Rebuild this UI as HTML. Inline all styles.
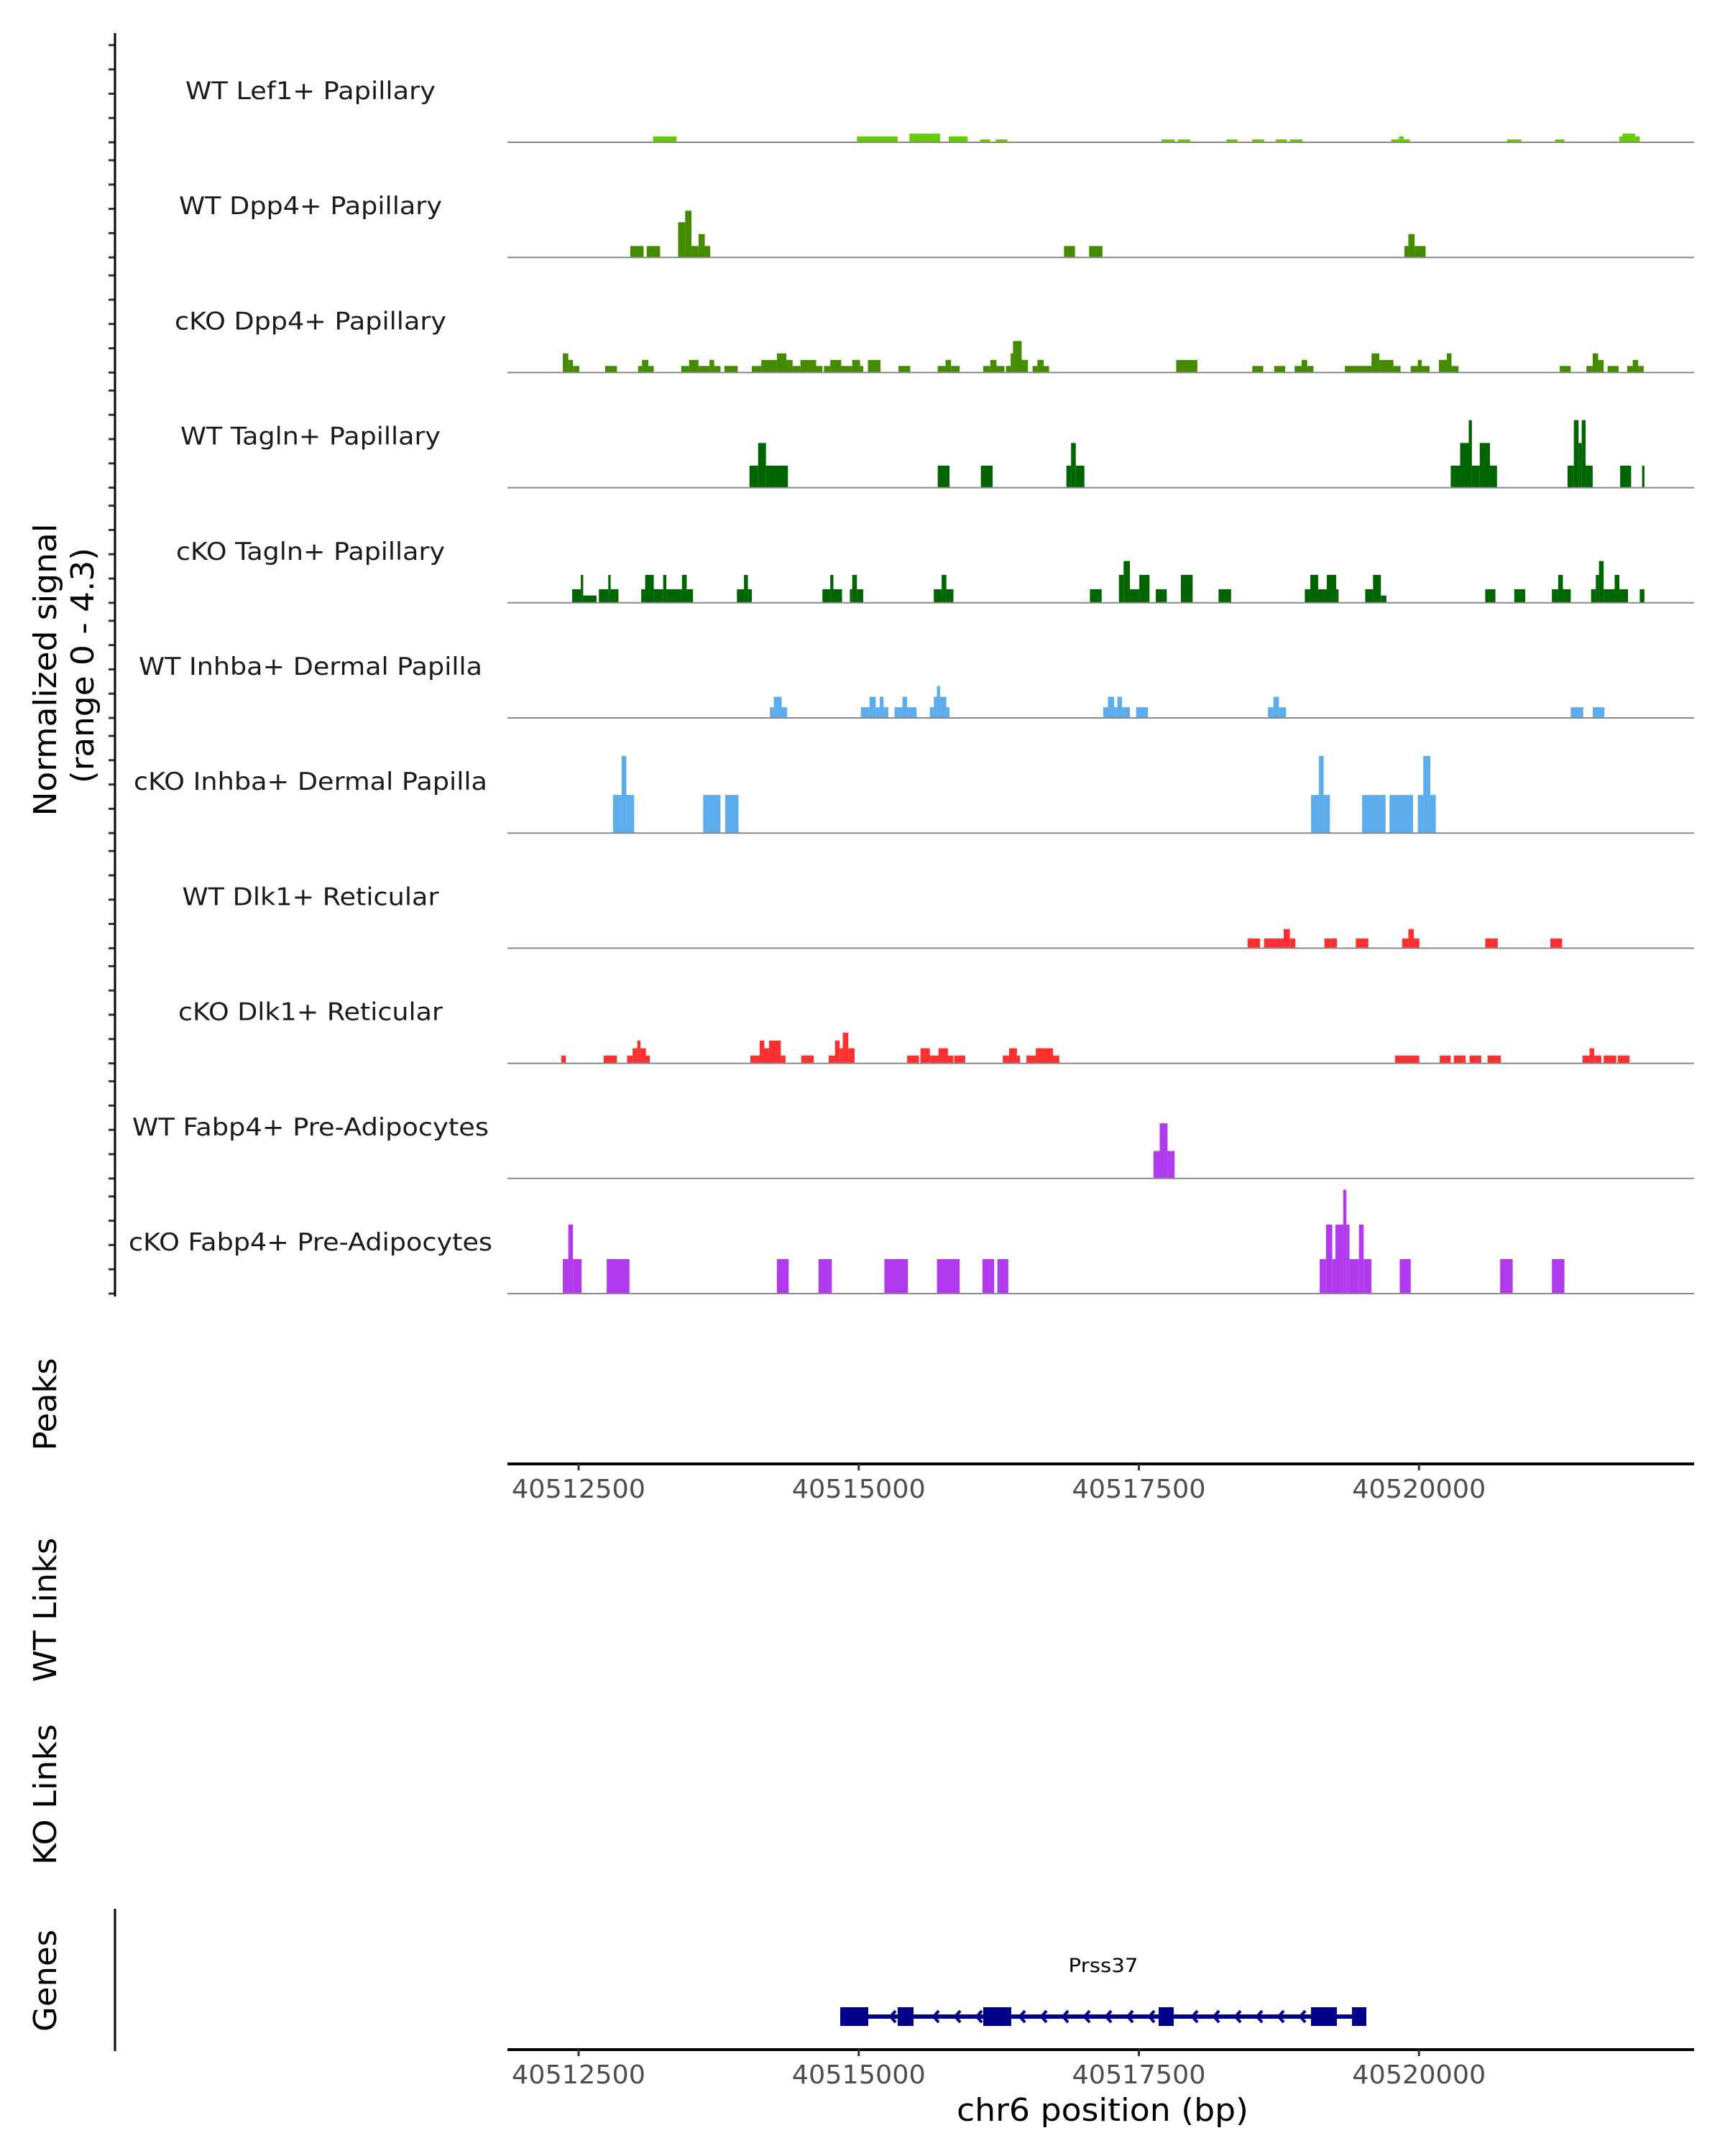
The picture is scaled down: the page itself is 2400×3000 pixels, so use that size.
<!DOCTYPE html>
<html><head><meta charset="utf-8"><style>
html,body{margin:0;padding:0;background:#fff;}
svg{display:block;font-family:"DejaVu Sans","Liberation Sans",sans-serif;}
</style></head><body>
<svg id="chart" width="2400" height="3000" viewBox="0 0 2400 3000" xmlns="http://www.w3.org/2000/svg">
<g id="tracks"></g>
<g id="leftaxis"></g>
<text transform="translate(78,932) rotate(-90)" text-anchor="middle" font-size="44" textLength="407" lengthAdjust="spacingAndGlyphs" fill="#000">Normalized signal</text>
<text transform="translate(130,926) rotate(-90)" text-anchor="middle" font-size="44" textLength="328" lengthAdjust="spacingAndGlyphs" fill="#000">(range 0 - 4.3)</text>
<text transform="translate(78,1954) rotate(-90)" text-anchor="middle" font-size="44" textLength="129" lengthAdjust="spacingAndGlyphs">Peaks</text>
<text transform="translate(78,2240) rotate(-90)" text-anchor="middle" font-size="44" textLength="201" lengthAdjust="spacingAndGlyphs">WT Links</text>
<text transform="translate(78,2497) rotate(-90)" text-anchor="middle" font-size="44" textLength="196" lengthAdjust="spacingAndGlyphs">KO Links</text>
<text transform="translate(78,2756) rotate(-90)" text-anchor="middle" font-size="44" textLength="142" lengthAdjust="spacingAndGlyphs">Genes</text>
<line x1="160" y1="2656" x2="160" y2="2854" stroke="#000" stroke-width="3"/>
<g id="xaxes"></g>
<g id="genes"></g>
<text x="1534" y="2951" text-anchor="middle" font-size="44" textLength="406" lengthAdjust="spacingAndGlyphs">chr6 position (bp)</text>
</svg>
<script>
const NS="http://www.w3.org/2000/svg";
const domainStart=40511865, domainEnd=40522487;
const regionStart=40511820;
const trackNames=["WT Lef1+ Papillary","WT Dpp4+ Papillary","cKO Dpp4+ Papillary","WT Tagln+ Papillary","cKO Tagln+ Papillary","WT Inhba+ Dermal Papilla","cKO Inhba+ Dermal Papilla","WT Dlk1+ Reticular","cKO Dlk1+ Reticular","WT Fabp4+ Pre-Adipocytes","cKO Fabp4+ Pre-Adipocytes"];
const trackColors=["#66cc00","#458b00","#458b00","#006400","#006400","#5dadec","#5dadec","#ff3030","#ff3030","#b23aee","#b23aee"];
const labelWidths=[348,366,378,362,374,478,492,357,368,496,506];
const xTicks=[40512500,40515000,40517500,40520000];
const yTicks=[0,1,2,3,4];
const lef1WT=[[1344,1554,.24],[3164,3528,.24],[3633,3906,.36],[3983,4151,.24],[4263,4354,.12],[4403,4508,.12],[5880,5999,.12],[6027,6139,.12],[6461,6559,.12],[6692,6797,.12],[6902,7000,.12],[7028,7140,.12],[7931,8001,.12],[8001,8043,.24],[8043,8099,.12],[8967,9093,.12],[9394,9478,.12],[9968,9996,.24],[9996,10108,.36],[10108,10150,.24]];
const dpp4WT=[[1141,1260,.47],[1288,1407,.47],[1568,1631,1.45],[1631,1687,1.92],[1687,1750,.47],[1750,1806,.96],[1806,1855,.47],[5012,5110,.47],[5236,5355,.47],[8050,8085,.47],[8085,8141,.96],[8141,8239,.47]];
const dpp4KO=[[539,588,.79],[588,630,.52],[630,686,.27],[917,1022,.27],[1211,1246,.27],[1246,1302,.52],[1302,1351,.27],[1596,1666,.27],[1666,1750,.52],[1750,1848,.27],[1848,1890,.52],[1890,1946,.27],[1981,2100,.27],[2226,2310,.27],[2310,2450,.52],[2450,2534,.79],[2534,2590,.52],[2590,2660,.27],[2660,2800,.52],[2800,2856,.27],[2870,2926,.27],[2926,3024,.52],[3024,3122,.27],[3122,3192,.52],[3192,3220,.27],[3262,3374,.52],[3535,3640,.27],[3885,3955,.27],[3955,4004,.52],[4004,4081,.27],[4291,4354,.27],[4354,4410,.52],[4410,4480,.27],[4494,4536,.27],[4536,4557,.79],[4557,4634,1.3],[4634,4690,.52],[4732,4774,.27],[4774,4830,.52],[4830,4879,.27],[6013,6202,.52],[6692,6790,.27],[6888,6986,.27],[7070,7133,.27],[7133,7182,.52],[7182,7238,.27],[7518,7756,.27],[7756,7826,.79],[7826,7952,.52],[7952,8015,.27],[8106,8169,.27],[8169,8204,.52],[8204,8274,.27],[8358,8428,.52],[8428,8470,.79],[8470,8533,.27],[9436,9534,.27],[9674,9730,.27],[9730,9779,.79],[9779,9828,.52],[9863,9961,.27],[10038,10087,.27],[10087,10136,.52],[10136,10185,.27]];
const taglnWT=[[2205,2282,.91],[2282,2352,1.84],[2352,2548,.91],[3885,3990,.91],[4270,4375,.91],[5033,5075,.91],[5075,5117,1.84],[5117,5194,.91],[8463,8547,.91],[8547,8624,1.84],[8624,8652,2.78],[8652,8722,.91],[8722,8813,1.84],[8813,8876,.91],[9506,9562,.91],[9562,9604,2.78],[9604,9632,1.84],[9632,9667,2.78],[9667,9730,.91],[9975,10073,.91],[10171,10192,.91]];
const taglnKO=[[623,700,.56],[700,721,1.15],[721,840,.3],[861,945,.56],[945,966,1.15],[966,1036,.56],[1239,1274,.56],[1274,1351,1.15],[1351,1435,.56],[1435,1463,1.15],[1463,1603,.56],[1603,1645,1.15],[1645,1701,.56],[2093,2156,.56],[2156,2191,1.15],[2191,2226,.56],[2856,2926,.56],[2926,2954,1.15],[2954,3031,.56],[3101,3122,.56],[3122,3164,1.15],[3164,3220,.56],[3850,3920,.56],[3920,3962,1.15],[3962,4025,.56],[5243,5348,.56],[5502,5544,1.15],[5544,5600,1.72],[5600,5684,.56],[5684,5775,1.15],[5831,5929,.56],[6055,6160,1.15],[6391,6503,.56],[7161,7210,.56],[7210,7280,1.15],[7280,7357,.56],[7357,7441,1.15],[7441,7462,.56],[7700,7770,.56],[7770,7840,1.15],[7840,7889,.3],[8771,8862,.56],[9030,9128,.56],[9366,9422,.56],[9422,9464,1.15],[9464,9534,.56],[9716,9758,.56],[9758,9786,1.15],[9786,9828,1.72],[9828,9926,.56],[9926,9968,1.15],[9968,10045,.56],[10150,10192,.56]];
const inhbaWT=[[2387,2422,.44],[2422,2492,.87],[2492,2541,.44],[3199,3276,.44],[3276,3332,.87],[3332,3367,.44],[3367,3402,.87],[3402,3444,.44],[3500,3570,.44],[3570,3612,.87],[3612,3696,.44],[3815,3850,.44],[3850,3878,.87],[3878,3906,1.31],[3906,3962,.87],[3962,3990,.44],[5362,5404,.44],[5404,5460,.87],[5460,5488,.44],[5488,5530,.87],[5530,5600,.44],[5656,5761,.44],[6832,6881,.44],[6881,6930,.87],[6930,6993,.44],[9534,9646,.44],[9730,9835,.44]];
const inhbaKO=[[987,1064,1.57],[1064,1106,3.17],[1106,1176,1.57],[1792,1946,1.57],[1988,2107,1.57],[7217,7287,1.57],[7287,7329,3.17],[7329,7385,1.57],[7672,7882,1.57],[7917,8127,1.57],[8169,8218,1.57],[8218,8281,3.17],[8281,8330,1.57]];
const dlk1WT=[[6650,6762,.4],[6797,6972,.4],[6972,7028,.79],[7028,7077,.4],[7336,7448,.4],[7616,7728,.4],[8029,8085,.4],[8085,8134,.79],[8134,8183,.4],[8771,8883,.4],[9352,9457,.4]];
const dlk1KO=[[525,567,.32],[903,1022,.32],[1113,1162,.32],[1162,1204,.62],[1204,1232,.94],[1232,1281,.62],[1281,1316,.32],[2212,2296,.32],[2296,2338,.94],[2338,2380,.62],[2380,2485,.94],[2485,2527,.32],[2667,2779,.32],[2912,2968,.32],[2968,3010,.94],[3010,3038,.62],[3038,3087,1.26],[3087,3143,.62],[3612,3717,.32],[3731,3815,.62],[3815,3892,.32],[3892,3976,.62],[3976,4025,.32],[4032,4130,.32],[4466,4522,.32],[4522,4592,.62],[4592,4620,.32],[4676,4760,.32],[4760,4914,.62],[4914,4970,.32],[7966,8183,.32],[8365,8463,.32],[8491,8596,.32],[8631,8736,.32],[8792,8911,.32],[9639,9702,.32],[9702,9744,.62],[9744,9807,.32],[9828,9940,.32],[9954,10059,.32]];
const fabp4WT=[[5810,5866,1.13],[5866,5936,2.27],[5936,5999,1.13]];
const fabp4KO=[[539,588,1.42],[588,630,2.84],[630,707,1.42],[931,1134,1.42],[2450,2555,1.42],[2821,2940,1.42],[3409,3619,1.42],[3878,4081,1.42],[4284,4389,1.42],[4417,4515,1.42],[7294,7350,1.42],[7350,7406,2.84],[7406,7434,1.42],[7434,7504,2.84],[7504,7532,4.28],[7532,7560,2.84],[7560,7644,1.42],[7644,7686,2.84],[7686,7756,1.42],[8008,8106,1.42],[8904,9016,1.42],[9366,9478,1.42]];
const exonStarts=[40514835,40515348,40516111,40517676,40519036,40519402];
const exonEnds=[40515085,40515489,40516361,40517811,40519267,40519530];
const geneName="Prss37";

const trackData=[lef1WT,dpp4WT,dpp4KO,taglnWT,taglnKO,inhbaWT,inhbaKO,dlk1WT,dlk1KO,fabp4WT,fabp4KO];
const xScale=bp=>706+(bp-domainStart)*(2362-706)/(domainEnd-domainStart);
const axisRight=2357;
const baseY=i=>198+i*160.2;
const yScale=(i,v)=>baseY(i)-v*33.8;
function mk(tag,attrs,parent){const e=document.createElementNS(NS,tag);for(const k in attrs)e.setAttribute(k,attrs[k]);parent.appendChild(e);return e;}
const tracks=document.getElementById('tracks');
const leftaxis=document.getElementById('leftaxis');
trackData.forEach((peaks,i)=>{
  const g=mk('g',{},tracks);
  
  
  const lab=mk('text',{x:432,y:baseY(i)-60,'text-anchor':'middle','font-size':34,textLength:labelWidths[i],lengthAdjust:'spacingAndGlyphs',fill:'#1a1a1a'},g);
  lab.textContent=trackNames[i];
  
  
  peaks.forEach(p=>{
    const x1=xScale(regionStart+p[0]),x2=xScale(regionStart+p[1]);
    const y0=baseY(i),y1=yScale(i,p[2]);
    const poly=mk('polygon',{points:`${x1},${y0} ${x1},${y1} ${x2},${y1} ${x2},${y0}`,fill:trackColors[i]},g);
    
    
  });
  const bl=mk('line',{x1:706,x2:axisRight,y1:baseY(i),y2:baseY(i),stroke:'#888','stroke-width':2},g);
  
  
  yTicks.forEach(v=>{
    const t=mk('line',{x1:151,x2:160,y1:yScale(i,v),y2:yScale(i,v),stroke:'#333','stroke-width':3},leftaxis);
    
    
  });
});
const la=mk('line',{x1:160,x2:160,y1:46,y2:1804,stroke:'#000','stroke-width':3},leftaxis);


const xaxes=document.getElementById('xaxes');
[2037,2852].forEach(ay=>{
  const l=mk('line',{x1:706,x2:axisRight,y1:ay,y2:ay,stroke:'#000','stroke-width':4},xaxes);
  
  
  xTicks.forEach(t=>{
    const x=xScale(t);
    const tk=mk('line',{x1:x,x2:x,y1:ay,y2:ay+9,stroke:'#333','stroke-width':3},xaxes);
    
    
    const tl=mk('text',{x:x,y:ay+47,'text-anchor':'middle','font-size':36,fill:'#4d4d4d',textLength:186,lengthAdjust:'spacingAndGlyphs'},xaxes);
    tl.textContent=String(t);
    
    
  });
});
const genes=document.getElementById('genes');
const gy=2806;
const gs=xScale(exonStarts[0]),ge=xScale(exonEnds[exonEnds.length-1]);
const gl=mk('line',{x1:gs,x2:ge,y1:gy,y2:gy,stroke:'#00008b','stroke-width':6},genes);


for(let x=gs+40;x<ge-8;x+=30){
  let inside=false;
  exonStarts.forEach((s,k)=>{if(x>xScale(s)-6&&x<xScale(exonEnds[k])+10)inside=true;});
  if(inside)continue;
  const c=mk('polyline',{points:`${x+7},${gy-8} ${x},${gy} ${x+7},${gy+8}`,fill:'none',stroke:'#00008b','stroke-width':4},genes);
  
  
}
exonStarts.forEach((s,k)=>{
  const r=mk('rect',{x:xScale(s),y:gy-13,width:xScale(exonEnds[k])-xScale(s),height:26,fill:'#00008b'},genes);
  
  
});
const gn=mk('text',{x:(gs+ge)/2,y:2744,'text-anchor':'middle','font-size':27,fill:'#000',textLength:97,lengthAdjust:'spacingAndGlyphs'},genes);
gn.textContent=geneName;


</script>
</body></html>
